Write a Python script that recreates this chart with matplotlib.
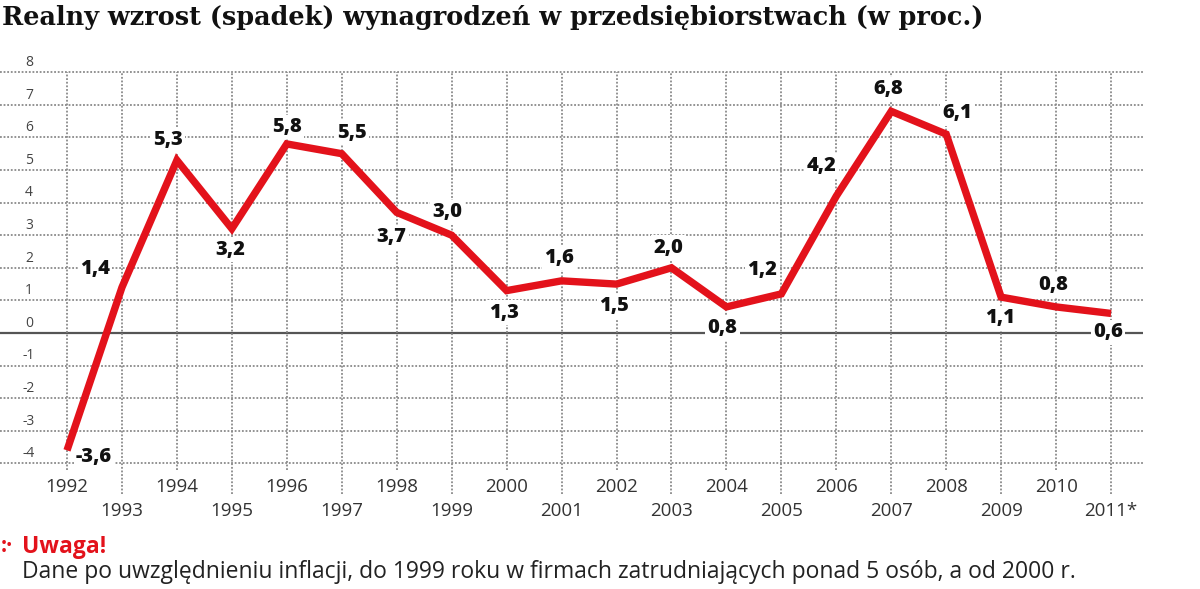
import matplotlib
matplotlib.use("Agg")
import matplotlib.pyplot as plt

# ---- data ----
years = list(range(1992, 2012))
values = [-3.6, 1.4, 5.3, 3.2, 5.8, 5.5, 3.7, 3.0, 1.3, 1.6, 1.5, 2.0, 0.8, 1.2, 4.2, 6.8, 6.1, 1.1, 0.8, 0.6]
value_labels = ["-3,6", "1,4", "5,3", "3,2", "5,8", "5,5", "3,7", "3,0", "1,3", "1,6",
                "1,5", "2,0", "0,8", "1,2", "4,2", "6,8", "6,1", "1,1", "0,8", "0,6"]
year_labels = ["1992", "1993", "1994", "1995", "1996", "1997", "1998", "1999", "2000", "2001",
               "2002", "2003", "2004", "2005", "2006", "2007", "2008", "2009", "2010", "2011*"]
y_ticks = [-4, -3, -2, -1, 0, 1, 2, 3, 4, 5, 6, 7, 8]
title = "Realny wzrost (spadek) wynagrodzeń w przedsiębiorstwach (w proc.)"
note_head = "Uwaga!"
note_text = "Dane po uwzględnieniu inflacji, do 1999 roku w firmach zatrudniających ponad 5 osób, a od 2000 r."

# label offsets in pixels (dx, dy; dy positive = down)
label_offsets = [(27, 7), (-27, -18), (-9, -20), (-2, 21), (0, -17), (10, -21), (-5, 25), (-4, -23),
                 (-2, 22), (-2, -23), (-2, 22), (-3, -20), (-4, 21), (-19, -24), (-15, -30),
                 (-3, -22), (11, -21), (-1, 21), (-3, -22), (-3, 19)]

RED = "#e3121b"
W, H = 1200, 589
fig = plt.figure(figsize=(W / 100, H / 100), dpi=100)
ax = fig.add_axes([0, 0, 1, 1])
# pixel mapping: x px = 67 + (year-1992)*54.95 ; y px = 333 - 32.6*v
xs, ys = 54.95, 32.6
ax.set_xlim(1992 - 67 / xs, 1992 + (W - 67) / xs)
ax.set_ylim((333 - H) / ys, 333 / ys)
ax.axis("off")

x_right = 1992 + (1143 - 67) / xs
x_left = 1992 - 67 / xs

# horizontal grid
for t in y_ticks:
    if t == 0:
        ax.hlines(0, x_left, x_right, color="#555555", lw=1.6, zorder=1)
    else:
        ax.hlines(t, x_left, x_right, color="#8a8a8a", lw=1.3, linestyles=(0, (1, 1.0)), zorder=1)
    ax.text(1992 - 38 / xs, t + 0.3, str(t), ha="center", va="center", fontsize=10,
            color="#444444", family="Open Sans", zorder=2)

# vertical grid + x labels
for i, (yr, lab) in enumerate(zip(years, year_labels)):
    bottom = -4.2 if i % 2 == 0 else -4.95
    ax.vlines(yr, bottom, 8, color="#8a8a8a", lw=1.3, linestyles=(0, (1, 1.0)), zorder=1)
    ypx = 487 if i % 2 == 0 else 511
    ax.text(yr, (333 - ypx) / ys, lab, ha="center", va="center", fontsize=13.5,
            color="#333333", family="Open Sans", zorder=2)

# value labels (white boxes hide the grid behind them)
for yr, v, lab, (dx, dy) in zip(years, values, value_labels, label_offsets):
    ax.annotate(lab, (yr, v), xytext=(dx, -dy), textcoords="offset pixels",
                ha="center", va="center", fontsize=14.5, fontweight=800, color="#111111",
                family="Open Sans", zorder=3,
                bbox=dict(boxstyle="square,pad=0.12", fc="white", ec="none"))

# line
ax.plot(years, values, color=RED, lw=5.3, solid_joinstyle="miter", solid_capstyle="butt", zorder=5)

# title
fig.text(2 / W, 1 - 18 / H, title, ha="left", va="center", fontsize=18.4, fontweight="bold",
         family="DejaVu Serif", color="#111111")

# note
fig.text(1 / W, 1 - 547 / H, ":·", ha="left", va="center", fontsize=15, fontweight="bold",
         color=RED, family="Open Sans")
fig.text(22 / W, 1 - 547 / H, note_head, ha="left", va="center", fontsize=16.5, fontweight="bold",
         color=RED, family="Open Sans")
fig.text(22 / W, 1 - 578 / H, note_text, ha="left", va="baseline", fontsize=16.5,
         color="#222222", family="Open Sans")

fig.savefig("out.png", dpi=100)
